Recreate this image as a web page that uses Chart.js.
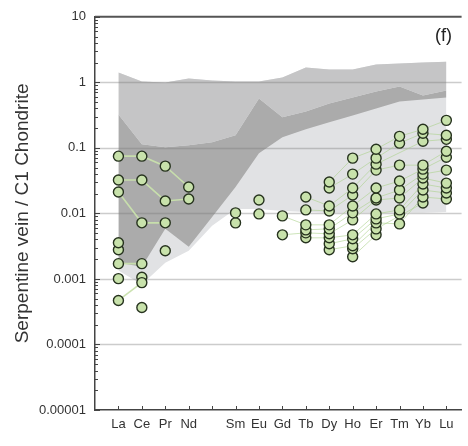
<!DOCTYPE html>
<html>
<head>
<meta charset="utf-8">
<script src="https://cdn.jsdelivr.net/npm/chart.js@4/dist/chart.umd.min.js"></script>
<style>
  html, body { margin: 0; padding: 0; background: #fff; }
  #wrap { width: 468px; height: 446px; position: relative; }
</style>
</head>
<body>
<div id="wrap"><canvas id="ree"></canvas></div>
<script>
// Rare earth elements in order of atomic number (Pm has no label)
const elements = ['La', 'Ce', 'Pr', 'Nd', '', 'Sm', 'Eu', 'Gd', 'Tb', 'Dy', 'Ho', 'Er', 'Tm', 'Yb', 'Lu'];

// Y axis decades
const yTickValues = [0.00001, 0.0001, 0.001, 0.01, 0.1, 1, 10];
const yTickLabels = ['0.00001', '0.0001', '0.001', '0.01', '0.1', '1', '10'];
const yGridValues = [0.0001, 0.001, 0.01, 0.1, 1];

// Reference fields (chondrite-normalised envelopes)
const fieldTop       = [1.41, 1.03, 0.994, 1.14, 1.07, 1.03, 1.03, 1.18, 1.68, 1.57, 1.57, 1.87, 1.93, 2.00, 2.07];
const fieldMid       = [0.324, 0.114, 0.102, 0.110, 0.122, 0.156, 0.568, 0.292, 0.360, 0.477, 0.588, 0.726, 0.864, 0.631, 0.751];
const fieldDarkBase  = [0.00177, 0.00154, 0.00581, 0.00310, 0.00885, 0.0253, 0.0830, 0.145, 0.192, 0.245, 0.313, 0.400, 0.512, 0.549, 0.588];
const fieldLightBase = [0.00134, 0.000820, 0.00177, 0.00269, 0.00646, 0.0117, 0.0117, 0.0109, 0.0105, 0.0102, 0.0102, 0.0102, 0.0102, 0.0102, 0.0105];

const N = null;
// Serpentine vein samples, LREE part
const lree1 = [0.0747, 0.0747, 0.0526, 0.0253, N, N, N, N, N, N, N, N, N, N, N];
const lree2 = [0.0323, 0.0323, 0.0155, 0.0166, N, N, N, N, N, N, N, N, N, N, N];
const lree3 = [0.0212, 0.00718, 0.00718, N, N, N, N, N, N, N, N, N, N, N, N];
const lree4 = [0.00171, 0.00171, N, N, N, N, N, N, N, N, N, N, N, N, N];
const lree5 = [0.000469, 0.000879, N, N, N, N, N, N, N, N, N, N, N, N, N];
// Single analyses without a connected pattern
const lone1 = [0.00356, 0.00106, 0.00269, N, N, 0.0102, 0.0160, N, N, N, N, N, N, N, N];
const lone2 = [0.00279, 0.000367, N, N, N, 0.00717, 0.00982, N, N, N, N, N, N, N, N];
const lone3 = [0.00101, N, N, N, N, N, N, N, N, N, N, N, N, N, N];
// Serpentine vein samples, HREE part
const hree1  = [N, N, N, N, N, N, N, N, N, 0.0301, 0.0697, 0.0954, 0.150, 0.192, 0.263];
const hree2  = [N, N, N, N, N, N, N, N, N, 0.0244, 0.0398, 0.0697, 0.118, 0.167, 0.156];
const hree3  = [N, N, N, N, N, N, N, N, 0.0178, 0.0130, 0.0244, 0.0564, N, 0.126, 0.135];
const hree4  = [N, N, N, N, N, N, N, N, 0.0113, 0.0109, 0.0191, 0.0458, 0.0545, 0.0545, 0.0890];
const hree5  = [N, N, N, N, N, N, N, 0.00916, 0.00669, 0.00669, 0.0130, 0.0244, 0.0312, 0.0474, 0.0721];
const hree6  = [N, N, N, N, N, N, N, N, 0.00561, 0.00581, 0.0102, 0.0172, 0.0227, 0.0398, 0.0458];
const hree7  = [N, N, N, N, N, N, N, 0.00471, 0.00505, 0.00488, 0.00796, 0.0160, 0.0172, 0.0346, 0.0290];
const hree8  = [N, N, N, N, N, N, N, N, 0.00424, 0.00424, 0.00471, 0.00982, 0.0113, 0.0281, 0.0244];
const hree9  = [N, N, N, N, N, N, N, N, N, 0.00344, 0.00410, 0.00825, 0.00982, 0.0227, 0.0205];
const hree10 = [N, N, N, N, N, N, N, N, N, 0.00279, 0.00321, 0.00717, 0.00692, 0.0178, 0.0166];
const hree11 = [N, N, N, N, N, N, N, N, N, N, 0.00289, 0.00581, N, 0.0144, N];
const hree12 = [N, N, N, N, N, N, N, N, N, N, 0.00218, 0.00471, N, N, N];

const FONT = "'Liberation Sans', Arial, sans-serif";

// element index -> x position (La = 1 ... Lu = 15)
function toPoints(values) {
  const pts = [];
  values.forEach((v, i) => { if (v !== null) pts.push({ x: i + 1, y: v }); });
  return pts;
}

function fieldPair(top, base, color, order) {
  return [
    { data: toPoints(top), fill: '+1', backgroundColor: color, borderColor: 'rgba(0,0,0,0)',
      borderWidth: 0, pointRadius: 0, order: order, tension: 0 },
    { data: toPoints(base), fill: false, borderColor: 'rgba(0,0,0,0)',
      borderWidth: 0, pointRadius: 0, order: order, tension: 0 }
  ];
}

const pointStyle = {
  pointRadius: 5, pointBackgroundColor: '#c8e2ab', pointBorderColor: '#27331f',
  pointBorderWidth: 1.4, pointHoverRadius: 5, fill: false, tension: 0, order: 0
};

function sample(values, lineColor, lineWidth) {
  return Object.assign({ data: toPoints(values), borderColor: lineColor, borderWidth: lineWidth }, pointStyle);
}
function loneSample(values) {
  return Object.assign({ data: toPoints(values), showLine: false, borderColor: 'rgba(0,0,0,0)' }, pointStyle);
}

const lreeLine = 'rgba(200,224,172,0.95)';
const hreeLine = 'rgba(172,210,140,0.6)';

const datasets = [
  ...[lree1, lree2, lree3, lree4, lree5].map(s => sample(s, lreeLine, 1.6)),
  ...[lone1, lone2, lone3].map(loneSample),
  ...[hree1, hree2, hree3, hree4, hree5, hree6, hree7, hree8, hree9, hree10, hree11, hree12]
      .map(s => sample(s, hreeLine, 1)),
  ...fieldPair(fieldTop, fieldMid, '#c5c5c6', 10),
  ...fieldPair(fieldMid, fieldDarkBase, '#ababab', 20),
  ...fieldPair(fieldTop, fieldLightBase, '#e1e2e4', 30)
];

const framePlugin = {
  id: 'frame',
  beforeDatasetsDraw(chart) {
    const { ctx, chartArea: a, scales: { y } } = chart;
    ctx.save();
    ctx.strokeStyle = 'rgba(120,120,120,0.38)';
    ctx.lineWidth = 1.3;
    yGridValues.forEach(v => {
      const py = Math.round(y.getPixelForValue(v)) + 0.5;
      ctx.beginPath(); ctx.moveTo(a.left, py); ctx.lineTo(a.right, py); ctx.stroke();
    });
    ctx.restore();
  },
  afterDraw(chart) {
    const { ctx, chartArea: a, scales: { x, y } } = chart;
    ctx.save();
    // top frame line
    ctx.strokeStyle = '#555';
    ctx.lineWidth = 2;
    ctx.beginPath(); ctx.moveTo(a.left, a.top); ctx.lineTo(a.right, a.top); ctx.stroke();
    // inward ticks on the log axis
    ctx.strokeStyle = '#444';
    ctx.lineWidth = 1;
    for (let e = -5; e <= 1; e++) {
      for (let k = 1; k <= 9; k++) {
        const v = k * Math.pow(10, e);
        if (v > 10 * 1.0001) break;
        const py = Math.round(y.getPixelForValue(v)) + 0.5;
        const len = k === 1 ? 5 : 3;
        ctx.beginPath(); ctx.moveTo(a.left, py); ctx.lineTo(a.left + len, py); ctx.stroke();
      }
    }
    // inward ticks on the element axis
    elements.forEach((_, i) => {
      const px = Math.round(x.getPixelForValue(i + 1)) + 0.5;
      ctx.beginPath(); ctx.moveTo(px, a.bottom); ctx.lineTo(px, a.bottom - 4); ctx.stroke();
    });
    // panel letter
    ctx.fillStyle = '#222';
    ctx.font = '18px ' + FONT;
    ctx.textAlign = 'center';
    ctx.textBaseline = 'middle';
    ctx.fillText('(f)', a.right - 18, a.top + 19);
    ctx.restore();
  }
};

new Chart(document.getElementById('ree'), {
  type: 'line',
  data: { datasets },
  options: {
    responsive: true,
    maintainAspectRatio: false,
    animation: false,
    devicePixelRatio: 1,
    layout: { padding: { top: 15, right: 0, left: 0, bottom: 0 } },
    plugins: {
      legend: { display: false },
      tooltip: { enabled: false },
      filler: { drawTime: 'beforeDatasetsDraw', propagate: false }
    },
    scales: {
      x: {
        type: 'linear', min: 0, max: 15.65,
        afterBuildTicks: s => { s.ticks = elements.map((_, i) => ({ value: i + 1 })); },
        afterFit: s => { s.height = 36; },
        grid: { display: false, drawTicks: false },
        border: { display: true, color: '#444', width: 1.5 },
        ticks: {
          autoSkip: false, maxRotation: 0, padding: 7, color: '#333',
          font: { family: FONT, size: 13 },
          callback: (v, i) => elements[i]
        }
      },
      y: {
        type: 'logarithmic', min: 0.00001, max: 10,
        afterBuildTicks: s => { s.ticks = yTickValues.map(v => ({ value: v })); },
        afterFit: s => { s.width = 95; },
        grid: { display: false, drawTicks: false },
        border: { display: true, color: '#444', width: 1.5 },
        ticks: {
          autoSkip: false, padding: 9, color: '#333',
          font: { family: FONT, size: 13 },
          callback: (v, i) => yTickLabels[i]
        },
        title: {
          display: true, text: 'Serpentine vein / C1 Chondrite', color: '#333',
          font: { family: FONT, size: 19 }, padding: { top: 11, bottom: 0 }
        }
      }
    }
  },
  plugins: [framePlugin]
});
</script>
</body>
</html>
